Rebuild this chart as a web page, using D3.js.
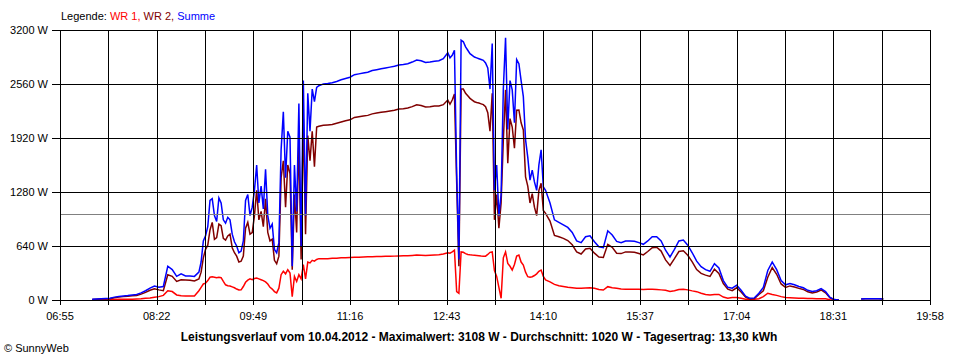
<!DOCTYPE html>
<meta charset="utf-8">
<style>
    body {
        margin: 0;
        background: #fff;
    }

    text {
        font-family: "Liberation Sans", Arial, sans-serif;
        font-size: 11px;
        fill: #000;
    }

    .grid line {
        stroke: #000;
        stroke-width: 1;
        shape-rendering: crispEdges;
    }

    .avg {
        stroke: #808080;
        shape-rendering: crispEdges;
    }

    .title {
        font-weight: bold;
        font-size: 12px;
    }

    .series {
        fill: none;
        stroke-width: 1.5;
    }
</style>
<svg class="chart" width="960" height="360"></svg>
<script src="https://d3js.org/d3.v7.min.js"></script>
<script>

    // sampling: [first time, step in minutes, count] - finer where the curve is noisy
    const sampling = [
        ["07:24", 4, 25],
        ["09:02", 2, 55],
        ["10:52", 4, 29],
        ["12:46", 2, 44],
        ["14:16", 4, 76]
    ];

    const wr1 = [
        // 07:24 - 09:00
        2, 3, 4, 5, 6, 7, 8, 8, 9, 10, 12, 15, 20, 25, 32, 40, 55, 110, 100, 60, 50, 47, 47, 47, 110,
        // 09:02 - 10:50
        150, 190, 200, 230, 270, 275, 270, 265, 270, 265,
        220, 180, 170, 165, 155, 145, 130, 118, 120, 160,
        210, 235, 250, 240, 255, 260, 250, 240, 230, 215,
        190, 150, 130, 100, 85, 140, 300, 340, 310, 360,
        320, 40, 280, 220, 300, 250, 420, 250, 450, 440,
        470, 460, 480, 490, 490,
        // 10:52 - 12:44
        490, 490, 495, 495, 500, 500, 505, 506, 508, 510, 512, 514, 515, 516, 518,
        519, 520, 521, 523, 525, 528, 532, 530, 528, 530, 532, 535, 545, 560,
        // 12:46 - 14:12
        555, 570, 590, 100, 80, 570, 565, 550, 540, 535,
        532, 530, 528, 525, 522, 520, 520, 540, 565, 570,
        350, 280, 150, 20, 500, 570, 434, 400, 355, 420,
        520, 533, 450, 415, 330, 276, 270, 276, 290, 310,
        340, 355, 280, 237,
        // 14:16 - 19:16
        215, 185, 170, 160, 150, 145, 138,
        138, 142, 146, 140, 125, 118, 158, 146, 138, 130,
        127, 127, 127, 127, 125, 127, 127, 125, 120, 115,
        100, 110, 125, 127, 120, 108, 99, 80, 65, 60,
        65, 66, 35, 22, 30, 30, 20, 10, 8, 8,
        15, 40, 80, 65, 55, 40, 30, 28, 25, 22,
        20, 18, 18, 16, 16, 14, 4, 1, 0, null,
        null, null, null, null, null, null, null, null, null
    ];

    const wr2 = [
        6, 9, 11, 13, 16, 27, 34, 40, 44, 50, 53, 70, 90, 115, 133, 120, 110, 300, 280, 220, 240, 237, 235, 225, 250,
        330, 500, 600, 650, 830, 920, 720, 740, 900, 880,
        730, 710, 760, 780, 620, 560, 520, 450, 460, 520,
        850, 920, 780, 800, 1000, 1300, 950, 1050, 870, 1200,
        800, 700, 720, 470, 430, 520, 1450, 1650, 1100, 1600,
        1500, 360, 1250, 800, 1900, 480, 2150, 780, 1950, 1650,
        2000, 1580, 2050, 2060, 2065,
        2070, 2075, 2080, 2095, 2110, 2125, 2135, 2164, 2172, 2180, 2188, 2206, 2215, 2224, 2232,
        2241, 2250, 2264, 2267, 2275, 2292, 2313, 2305, 2287, 2290, 2298, 2300, 2315, 2370,
        2320, 2370, 2440, 1400, 400, 2500, 2500, 2450, 2420, 2390,
        2370, 2350, 2340, 2335, 2325, 2315, 2290, 2220, 2000, 2450,
        950, 1250, 850, 1150, 1900, 2490, 1620, 2150, 2050, 1800,
        2250, 2252, 2100, 2015, 1460, 1350, 1150, 1260, 1100, 1000,
        1300, 1383, 1060, 1027,
        935, 765, 750, 730, 705, 655, 570,
        545, 605, 614, 555, 510, 505, 660, 625, 555, 550,
        570, 570, 565, 550, 535, 575, 620, 625, 580, 475,
        410, 490, 575, 583, 530, 452, 360, 315, 295, 280,
        365, 314, 195, 128, 110, 145, 95, 35, 12, 17,
        65, 110, 270, 385, 305, 190, 150, 167, 155, 138,
        125, 97, 82, 94, 119, 86, 26, 4, 0, null,
        null, null, null, 12, 15, 15, 15, 15, 12
    ];

    const summe = [
        8, 12, 15, 18, 22, 34, 42, 48, 53, 60, 65, 85, 110, 140, 165, 150, 160, 400, 360, 280, 310, 285, 285, 280, 330,
        450, 700, 760, 870, 1180, 1200, 1000, 930, 1210, 1150,
        950, 910, 980, 950, 780, 690, 640, 560, 580, 700,
        1180, 1250, 1000, 1100, 1300, 1600, 1150, 1350, 1080, 1550,
        1000, 850, 900, 600, 560, 680, 1780, 2230, 1450, 2000,
        1930, 400, 1600, 1050, 2330, 640, 2600, 1000, 2450, 2000,
        2500, 2350, 2520, 2540, 2550,
        2560, 2565, 2575, 2590, 2610, 2625, 2640, 2670, 2680, 2690, 2700, 2720, 2730, 2740, 2750,
        2760, 2770, 2785, 2790, 2800, 2820, 2845, 2835, 2815, 2820, 2830, 2835, 2860, 2930,
        2870, 2900, 2960, 1500, 480, 3080, 3060, 3000, 2960, 2920,
        2900, 2880, 2870, 2860, 2850, 2840, 2810, 2750, 2500, 3040,
        1300, 1600, 1000, 1250, 2500, 3108, 2020, 2600, 2490, 2100,
        2850, 2800, 2600, 2410, 1900, 1690, 1420, 1540, 1400, 1300,
        1600, 1780, 1340, 1300,
        1150, 950, 920, 890, 860, 800, 700,
        680, 750, 760, 690, 630, 620, 820, 770, 695, 680,
        700, 700, 695, 680, 660, 700, 750, 750, 700, 590,
        510, 600, 700, 710, 650, 560, 460, 395, 360, 340,
        430, 380, 230, 150, 140, 175, 115, 45, 20, 25,
        80, 150, 350, 450, 360, 230, 180, 195, 180, 160,
        145, 115, 100, 110, 135, 100, 30, 5, 0, null,
        null, null, null, 12, 15, 15, 15, 15, 12
    ];

    const xLabels = ["06:55", "08:22", "09:49", "11:16", "12:43", "14:10", "15:37", "17:04", "18:31", "19:58"];
    const yTicks = [0, 640, 1280, 1920, 2560, 3200];
    const average = 1020;

    const legend = [
        {text: "Legende: ", color: "#000000"},
        {text: "WR 1, ", color: "#ff0000"},
        {text: "WR 2, ", color: "#800000"},
        {text: "Summe", color: "#0000ff"}
    ];
    const title = "Leistungsverlauf vom 10.04.2012 - Maximalwert: 3108 W - Durchschnitt: 1020 W - Tagesertrag: 13,30 kWh";

    const margin = {top: 30, right: 30, bottom: 60, left: 60},
        width = 960 - margin.left - margin.right,
        height = 360 - margin.top - margin.bottom;

    const toMin = s => {
        const [h, m] = s.split(":").map(Number);
        return h * 60 + m;
    };

    const times = sampling.flatMap(([s, step, n]) => d3.range(n).map(k => toMin(s) + k * step));

    const t0 = toMin(xLabels[0]),
        t1 = toMin(xLabels[xLabels.length - 1]),
        half = (toMin(xLabels[1]) - t0) / 2;

    const x = d3.scaleLinear().domain([t0, t1]).range([0, width]);
    const y = d3.scaleLinear().domain([0, d3.max(yTicks)]).range([height, 0]);

    const svg = d3.select(".chart");
    const chart = svg.append("g")
        .attr("transform", "translate(" + margin.left + "," + margin.top + ")");

    const line = d3.line()
        .defined(d => d != null)
        .x((d, i) => x(times[i]))
        .y(d => y(d));

    // red first, blue on top
    [[wr1, "#ff0000"], [wr2, "#800000"], [summe, "#0000ff"]].forEach(([vals, c]) => {
        chart.append("path")
            .attr("class", "series")
            .attr("stroke", c)
            .attr("d", line(vals));
    });

    // average line
    chart.append("line")
        .attr("class", "avg")
        .attr("x1", 0).attr("x2", width)
        .attr("y1", Math.round(y(average)) + 0.5)
        .attr("y2", Math.round(y(average)) + 0.5);

    const grid = chart.append("g").attr("class", "grid");

    // vertical lines every half label step
    const vTimes = d3.range(t0, t1 + 0.1, half);
    grid.selectAll("line.v")
        .data(vTimes)
        .join("line")
        .attr("class", "v")
        .attr("x1", d => Math.round(x(d)) + 0.5)
        .attr("x2", d => Math.round(x(d)) + 0.5)
        .attr("y1", 0)
        .attr("y2", height + 5);

    grid.selectAll("line.h")
        .data(yTicks)
        .join("line")
        .attr("class", "h")
        .attr("x1", -8)
        .attr("x2", width + 0.5)
        .attr("y1", d => Math.round(y(d)) + 0.5)
        .attr("y2", d => Math.round(y(d)) + 0.5);

    chart.selectAll("text.ylab")
        .data(yTicks)
        .join("text")
        .attr("class", "ylab")
        .attr("x", -12)
        .attr("y", d => y(d))
        .attr("dy", "0.35em")
        .attr("text-anchor", "end")
        .text(d => d + " W");

    chart.selectAll("text.xlab")
        .data(xLabels)
        .join("text")
        .attr("class", "xlab")
        .attr("x", d => x(toMin(d)))
        .attr("y", height + 20)
        .attr("text-anchor", "middle")
        .text(d => d);

    const leg = svg.append("text")
        .attr("x", 61)
        .attr("y", 20);
    leg.selectAll("tspan")
        .data(legend)
        .join("tspan")
        .style("fill", d => d.color)
        .text(d => d.text);

    svg.append("text")
        .attr("class", "title")
        .attr("x", 479)
        .attr("y", 341)
        .attr("text-anchor", "middle")
        .text(title);

    svg.append("text")
        .attr("x", 4)
        .attr("y", 352)
        .text("\u00a9 SunnyWeb");

</script>
